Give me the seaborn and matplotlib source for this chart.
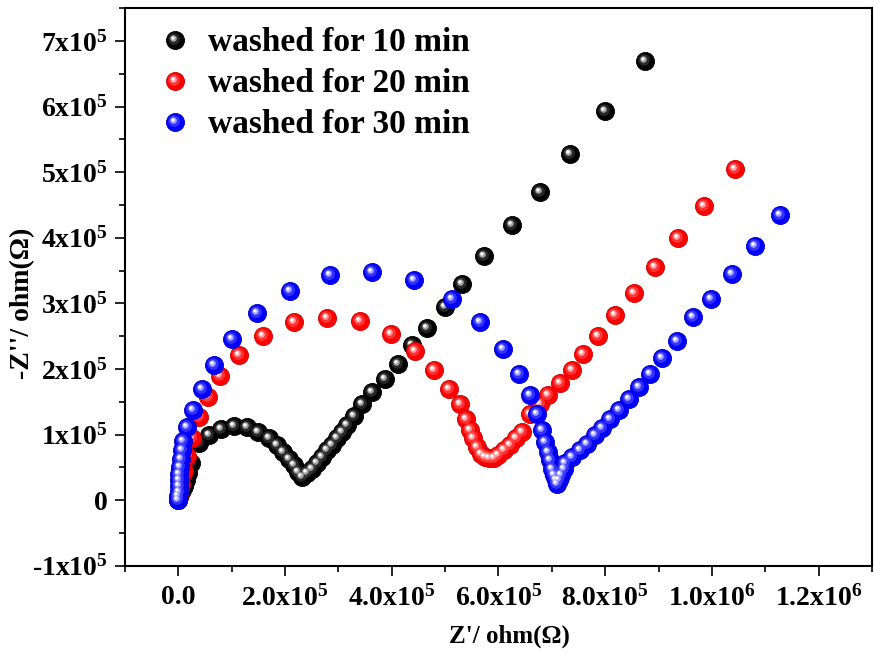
import seaborn as sns
import matplotlib.pyplot as plt
import numpy as np
import pandas as pd
from matplotlib.markers import MarkerStyle
from matplotlib.transforms import Affine2D
from matplotlib.lines import Line2D
from matplotlib.legend_handler import HandlerTuple
from matplotlib.ticker import MultipleLocator, FixedLocator, FixedFormatter

# Nyquist data, in units of 1e5 ohm
labels = ["washed for 10 min", "washed for 20 min", "washed for 30 min"]
colors = ["#000000", "#ff0000", "#0000ff"]
edges = ["#000000", "#d00000", "#0000c8"]
mids = ["#3a3a3a", "#ff4a4a", "#4a4aff"]
shines = ["#a0a0a0", "#ffa0a0", "#a0a0ff"]

zre_10 = [0.0, 0.02, 0.04, 0.07, 0.10, 0.14, 0.19, 0.24, 0.39, 0.58, 0.80, 1.05, 1.28, 1.50,
          1.69, 1.84, 1.96, 2.07, 2.17, 2.25, 2.31, 2.42, 2.51, 2.60, 2.70, 2.79, 2.88, 2.98,
          3.07, 3.16, 3.29, 3.44, 3.63, 3.88, 4.12, 4.38, 4.66, 4.99, 5.31, 5.72, 6.26, 6.78,
          7.34, 7.99, 8.74]
zim_10 = [0.0, 0.04, 0.09, 0.15, 0.22, 0.31, 0.42, 0.56, 0.87, 1.00, 1.09, 1.13, 1.12, 1.04,
          0.94, 0.84, 0.74, 0.63, 0.53, 0.43, 0.36, 0.41, 0.48, 0.56, 0.66, 0.76, 0.84, 0.94,
          1.04, 1.14, 1.29, 1.46, 1.65, 1.85, 2.08, 2.36, 2.63, 2.94, 3.30, 3.72, 4.20, 4.70,
          5.28, 5.93, 6.69]

zre_20 = [0.0, 0.02, 0.05, 0.10, 0.16, 0.25, 0.38, 0.55, 0.78, 1.13, 1.59, 2.16, 2.79, 3.41,
          3.98, 4.44, 4.80, 5.08, 5.27, 5.39, 5.47, 5.53, 5.59, 5.68, 5.75, 5.83, 5.91, 6.00,
          6.11, 6.22, 6.32, 6.44, 6.59, 6.77, 6.93, 7.15, 7.37, 7.59, 7.87, 8.19, 8.54, 8.93,
          9.36, 9.86, 10.44]
zim_20 = [0.0, 0.10, 0.25, 0.45, 0.68, 0.95, 1.27, 1.57, 1.89, 2.21, 2.50, 2.71, 2.78, 2.73,
          2.54, 2.27, 1.98, 1.70, 1.46, 1.24, 1.07, 0.94, 0.81, 0.71, 0.66, 0.64, 0.64, 0.69,
          0.76, 0.84, 0.94, 1.04, 1.32, 1.46, 1.60, 1.79, 1.98, 2.23, 2.51, 2.82, 3.16, 3.55,
          3.99, 4.48, 5.05]

zre_30 = [0.0, 0.0, 0.005, 0.01, 0.015, 0.02, 0.03, 0.045, 0.06, 0.08, 0.17, 0.28, 0.44, 0.66,
          1.00, 1.48, 2.09, 2.84, 3.63, 4.41, 5.12, 5.66, 6.09, 6.39, 6.59, 6.73, 6.81, 6.87,
          6.92, 6.97, 7.01, 7.04, 7.07, 7.10, 7.14, 7.18, 7.22, 7.25, 7.37, 7.53, 7.65, 7.81,
          7.94, 8.09, 8.26, 8.44, 8.63, 8.84, 9.07, 9.35, 9.64, 9.99, 10.37, 10.80, 11.27]
zim_30 = [0.0, 0.06, 0.13, 0.21, 0.30, 0.40, 0.51, 0.63, 0.76, 0.90, 1.12, 1.37, 1.70, 2.06,
          2.46, 2.85, 3.19, 3.43, 3.48, 3.35, 3.07, 2.72, 2.31, 1.93, 1.60, 1.32, 1.07, 0.89,
          0.74, 0.61, 0.48, 0.39, 0.31, 0.25, 0.30, 0.38, 0.47, 0.56, 0.66, 0.76, 0.86, 0.99,
          1.10, 1.23, 1.37, 1.54, 1.72, 1.93, 2.16, 2.43, 2.79, 3.07, 3.45, 3.87, 4.35]

x_ticks = [0, 2e5, 4e5, 6e5, 8e5, 1e6, 1.2e6]
x_tick_labels = ["0.0", "2.0x10$^{5}$", "4.0x10$^{5}$", "6.0x10$^{5}$", "8.0x10$^{5}$",
                 "1.0x10$^{6}$", "1.2x10$^{6}$"]
y_ticks = [-1e5, 0, 1e5, 2e5, 3e5, 4e5, 5e5, 6e5, 7e5]
y_tick_labels = ["-1x10$^{5}$", r"0$^{\ \ }$", "1x10$^{5}$", "2x10$^{5}$", "3x10$^{5}$",
                 "4x10$^{5}$", "5x10$^{5}$", "6x10$^{5}$", "7x10$^{5}$"]

frames = []
for lab, xs, ys in zip(labels, [zre_10, zre_20, zre_30], [zim_10, zim_20, zim_30]):
    frames.append(pd.DataFrame({"zre": np.array(xs) * 1e5, "zim": np.array(ys) * 1e5, "sample": lab}))
df = pd.concat(frames, ignore_index=True)

sns.set_style("ticks")
plt.rcParams["font.family"] = ["Liberation Serif", "DejaVu Serif"]
plt.rcParams["font.weight"] = "bold"
plt.rcParams["text.color"] = "black"
plt.rcParams["axes.labelcolor"] = "black"
plt.rcParams["xtick.color"] = "black"
plt.rcParams["ytick.color"] = "black"
plt.rcParams["mathtext.fontset"] = "custom"
plt.rcParams["mathtext.rm"] = "Liberation Serif:bold"
plt.rcParams["mathtext.it"] = "Liberation Serif:bold"
plt.rcParams["mathtext.bf"] = "Liberation Serif:bold"

fig = plt.figure(figsize=(8.74, 6.53), dpi=100)
ax = fig.add_axes([0.143, 0.1337, 0.8547, 0.8536])

ball_s = 170
# shaded-sphere look: base ball, softer mid tone, light spot, white glint (offset up-left)
mid_mk = MarkerStyle("o", transform=Affine2D().translate(-0.12, 0.12))
shine_mk = MarkerStyle("o", transform=Affine2D().translate(-0.3, 0.3))
dot_mk = MarkerStyle("o", transform=Affine2D().translate(-0.75, 0.75))

for lab, col, edge, md, sh in zip(labels, colors, edges, mids, shines):
    sub = df[df["sample"] == lab]
    sns.scatterplot(data=sub, x="zre", y="zim", color=col, s=ball_s, edgecolor=edge,
                    linewidth=0.6, ax=ax, legend=False)
    ax.scatter(sub["zre"], sub["zim"], s=70, color=md, marker=mid_mk, linewidths=0, alpha=0.7)
    ax.scatter(sub["zre"], sub["zim"], s=22, color=sh, marker=shine_mk, linewidths=0)
    ax.scatter(sub["zre"], sub["zim"], s=6, color="white", marker=dot_mk, linewidths=0)

ax.set_xlim(-1e5, 1.3e6)
ax.set_ylim(-1e5, 7.5e5)
ax.xaxis.set_major_locator(FixedLocator(x_ticks))
ax.xaxis.set_major_formatter(FixedFormatter(x_tick_labels))
ax.xaxis.set_minor_locator(MultipleLocator(1e5))
ax.yaxis.set_major_locator(FixedLocator(y_ticks))
ax.yaxis.set_major_formatter(FixedFormatter(y_tick_labels))
ax.yaxis.set_minor_locator(MultipleLocator(0.5e5))

ax.tick_params(which="major", direction="out", length=7.2, width=1.2, labelsize=20, pad=5,
               colors="black")
ax.tick_params(which="minor", direction="out", length=4.3, width=1.2, colors="black")
ax.tick_params(axis="x", which="major", pad=7)
for sp in ax.spines.values():
    sp.set_linewidth(1.5)
    sp.set_color("black")

ax.set_xlabel("Z'/ ohm(\u03a9)", fontsize=18, fontweight="bold")
ax.set_ylabel("-Z''/ ohm(\u03a9)", fontsize=20, fontweight="bold")
ax.xaxis.set_label_coords(0.514, -0.127)
ax.yaxis.set_label_coords(-0.1365, 0.47)
ax.xaxis.label.set_va("center")
ax.yaxis.label.set_va("center")

handles = []
for col, edge, md, sh in zip(colors, edges, mids, shines):
    base = Line2D([], [], ls="", marker="o", ms=13, mfc=col, mec=edge, mew=0.6)
    mid = Line2D([], [], ls="", marker=mid_mk, ms=8.4, mfc=md, mec="none", alpha=0.7)
    shine = Line2D([], [], ls="", marker=shine_mk, ms=4.7, mfc=sh, mec="none")
    dot = Line2D([], [], ls="", marker=dot_mk, ms=2.4, mfc="white", mec="none")
    handles.append((base, mid, shine, dot))

ax.legend(handles, labels, handler_map={tuple: HandlerTuple(ndivide=1, pad=0)},
          loc="upper left", bbox_to_anchor=(158.3 / 874, 1 - 27.4 / 653),
          bbox_transform=fig.transFigure, frameon=False,
          handlelength=1.0, handletextpad=0.49, labelspacing=0.3,
          borderpad=0, borderaxespad=0, prop={"weight": "bold", "size": 24})

fig.savefig("out.png", dpi=100)
